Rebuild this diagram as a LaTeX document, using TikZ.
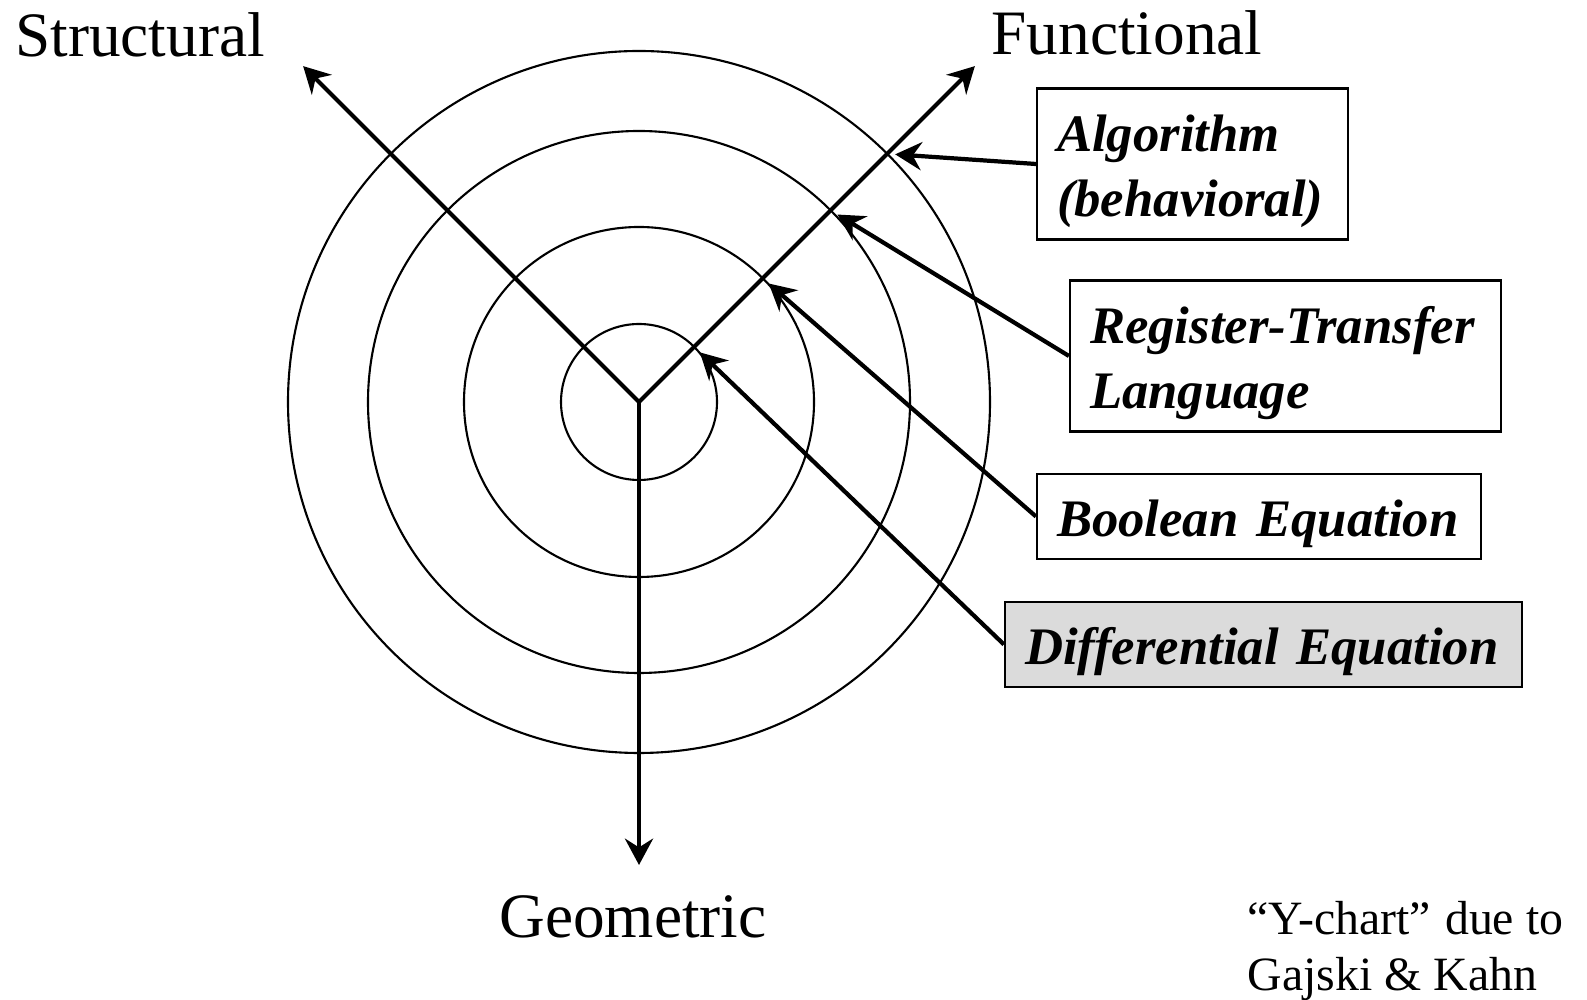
\documentclass[tikz,border=0pt]{standalone}
\usepackage{fontspec}
\setmainfont{Liberation Serif}
\usetikzlibrary{arrows.meta}
\definecolor{boxgray}{gray}{0.86}

\begin{document}
\begin{tikzpicture}[
        axisarrow/.style = {line width = 1.2pt, -{Stealth[length = 7.5pt, width = 8pt, inset = 2.5pt]}},
        pointer/.style = {line width = 1.2pt, shorten >= 0.08cm, -{Stealth[length = 7.5pt, width = 8pt, inset = 2.5pt]}},
        ring/.style = {line width = 0.6pt},
        axislabel/.style = {font = \fontsize{18}{22}\selectfont, anchor = base, inner sep = 0pt},
        levelbox/.style = {draw, line width = 0.6pt, inner xsep = 0.2cm, align = left,
            font = \fontsize{15}{18.6}\selectfont\bfseries\itshape, execute at begin node = \rule{0pt}{14.5pt}},
        credit/.style = {font = \fontsize{13.6}{17}\selectfont, anchor = base west, inner sep = 0pt}]
    \useasboundingbox (0, 0) rectangle (15.87, -10);
    \coordinate (center) at (6.39, -4.02);
    \foreach \r [count = \i] in {0.78, 1.75, 2.71, 3.51} {
        \draw[ring] (center) circle (\r);
        \path (center) ++(45:\r) coordinate (hit\i);
    }
    \path (center) ++(135:4.75) coordinate (structural tip);
    \path (center) ++(45:4.75) coordinate (functional tip);
    \path (center) ++(0, -4.63) coordinate (geometric tip);
    \draw[axisarrow] (center) -- (structural tip);
    \draw[axisarrow] (center) -- (functional tip);
    \draw[axisarrow] (center) -- (geometric tip);
    \node[axislabel] (structural) at (1.40, -0.57) {Structural};
    \node[axislabel] (functional) at (11.27, -0.55) {Functional};
    \node[axislabel] (geometric) at (6.33, -9.38) {Geometric};
    \node[levelbox, text width = 2.71cm, minimum height = 1.5cm] (algorithm) at (11.925, -1.64)
        {Algorithm\\(behavioral)};
    \node[levelbox, text width = 3.91cm, minimum height = 1.5cm] (rtl) at (12.855, -3.56)
        {Register-Transfer\\Language};
    \node[levelbox, text width = 4.04cm, minimum height = 0.85cm] (boolean) at (12.59, -5.165)
        {Boolean Equation};
    \node[levelbox, fill = boxgray, text width = 4.77cm, minimum height = 0.85cm] (differential) at (12.635, -6.445)
        {Differential Equation};
    \draw[pointer] (algorithm.west) -- (hit4);
    \draw[pointer] (rtl.west) -- (hit3);
    \draw[pointer] (boolean.west) -- (hit2);
    \draw[pointer] (differential.west) -- (hit1);
    \node[credit] (credit top) at (12.47, -9.35) {``Y-chart''\hskip0.3em due to};
    \node[credit] (credit bottom) at (12.47, -9.91) {Gajski \& Kahn};
\end{tikzpicture}
\end{document}
